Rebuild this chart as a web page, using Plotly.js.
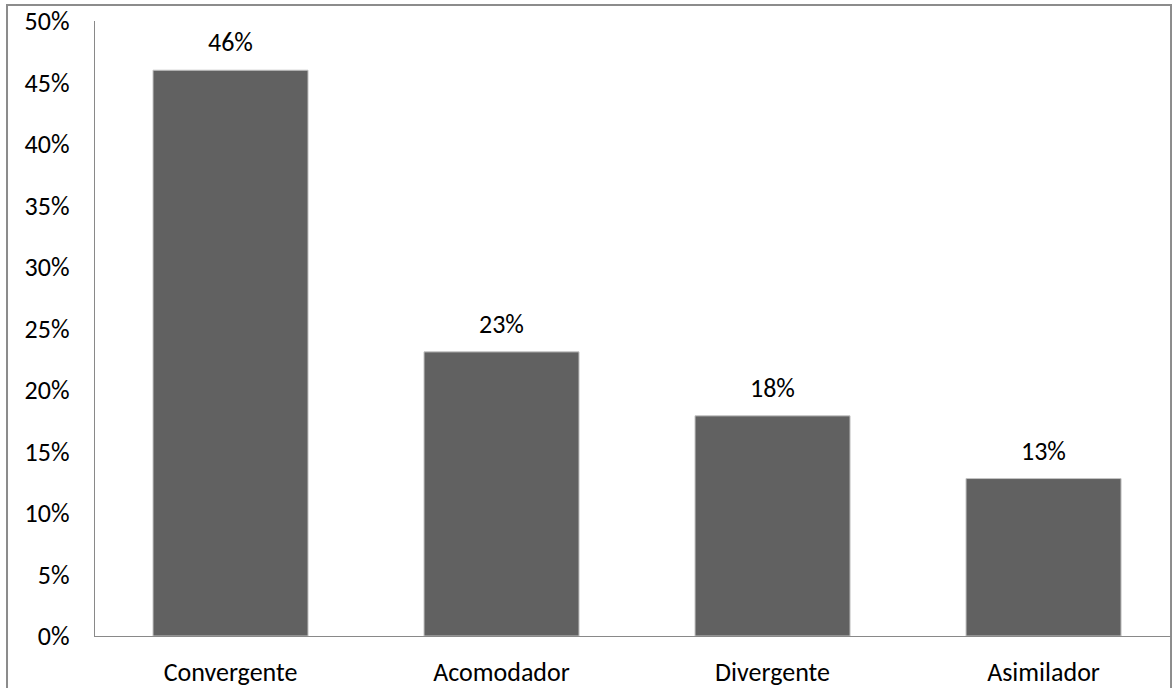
<!DOCTYPE html>
<html>
<head>
<meta charset="utf-8">
<script src="https://cdn.plot.ly/plotly-3.0.1.min.js"></script>
<style>html,body{margin:0;padding:0;background:#fff;}#chart{width:1172px;height:688px;}</style>
</head>
<body>
<div id="chart"></div>
<script>
const categories = ["Convergente", "Acomodador", "Divergente", "Asimilador"];
const values = [46, 23.1, 17.9, 12.8];
const labels = ["46%", "23%", "18%", "13%"];
const yTickVals = [0, 5, 10, 15, 20, 25, 30, 35, 40, 45, 50];
const yTickText = ["0%", "5%", "10%", "15%", "20%", "25%", "30%", "35%", "40%", "45%", "50%"];

const FONT = "Carlito, 'Open Sans', sans-serif";
const FS = 26;

const trace = {
  type: "bar",
  x: categories,
  y: values,
  width: 0.572,
  marker: { color: "#616161", line: { color: "#c4c4c4", width: 1 } },
  hoverinfo: "none"
};

const annotations = categories.map((c, i) => ({
  x: c, y: values[i], text: labels[i], showarrow: false,
  xref: "x", yref: "y", yanchor: "bottom", yshift: 10,
  font: { family: FONT, size: FS, color: "#000" }
}));

const layout = {
  width: 1172, height: 688,
  margin: { l: 95, r: 0, t: 21, b: 52, pad: 0 },
  paper_bgcolor: "#fff", plot_bgcolor: "#fff",
  showlegend: false,
  font: { family: FONT, size: FS, color: "#000" },
  xaxis: {
    type: "category", range: [-0.5, 3.474],
    showline: true, linecolor: "#898989", linewidth: 1.3,
    showgrid: false, zeroline: false, ticks: "", ticklabelstandoff: 12,
    tickfont: { family: FONT, size: FS, color: "#000" },
    fixedrange: true
  },
  yaxis: {
    range: [0, 50], tickvals: yTickVals, ticktext: yTickText,
    showline: true, linecolor: "#898989", linewidth: 1.3,
    showgrid: false, zeroline: false, ticks: "", ticklabelstandoff: 19,
    tickfont: { family: FONT, size: FS, color: "#000" },
    fixedrange: true
  },
  annotations: annotations,
  shapes: [{
    type: "rect", xref: "paper", yref: "paper",
    x0: -0.0817, x1: 0.9991, y0: -0.2, y1: 1.026,
    line: { color: "#8c8c8c", width: 2 }, fillcolor: "rgba(0,0,0,0)", layer: "above"
  }]
};

Plotly.newPlot("chart", [trace], layout, { displayModeBar: false, staticPlot: true });
</script>
</body>
</html>
